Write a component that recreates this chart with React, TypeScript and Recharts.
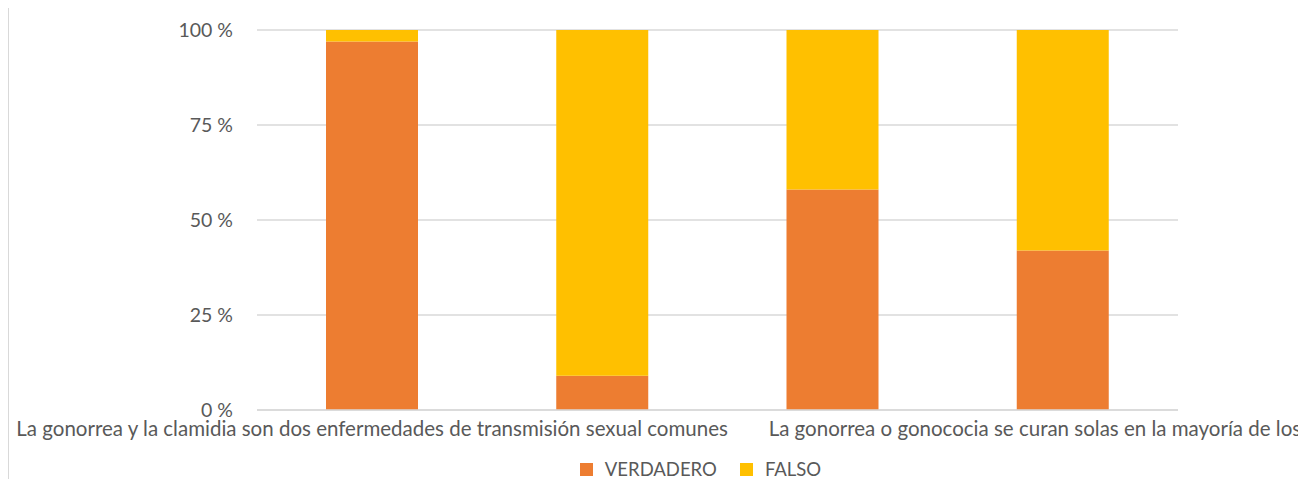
import React from "react";
import {
  BarChart,
  Bar,
  XAxis,
  YAxis,
  CartesianGrid,
  Legend,
} from "recharts";

// statements shown on the x axis (only some fit as labels)
const statements = [
  "La gonorrea y la clamidia son dos enfermedades de transmisión sexual comunes",
  "La gonorrea y la clamidia solo afectan a las mujeres",
  "La gonorrea o gonococia se curan solas en la mayoría de los casos",
  "La clamidia no presenta síntomas en la mayoría de los casos",
];

// percentages
const verdadero = [97, 9, 58, 42];
const falso = [3, 91, 42, 58];

const yTicks = [0, 25, 50, 75, 100];

const ORANGE = "#ED7D31";
const YELLOW = "#FFC000";
const TEXT = "#595959";
const GRID = "#d9d9d9";
const FONT = "Lato, 'Open Sans', sans-serif";

const data = statements.map((name, i) => ({
  name,
  VERDADERO: verdadero[i],
  FALSO: falso[i],
}));

const CategoryTick = (props: any) => {
  const { x, y, payload, index } = props;
  // Excel only had room for every other label; the third one is nudged right
  if (index % 2 !== 0) return null;
  const anchor = index === 0 ? "middle" : "start";
  const dx = index === 0 ? 0 : -64;
  return (
    <text
      x={x + dx}
      y={y}
      dy={18}
      textAnchor={anchor}
      fill={TEXT}
      fontSize={20.5}
      fontFamily={FONT}
    >
      {payload.value}
    </text>
  );
};

const LegendContent = () => {
  const items = [
    { label: "VERDADERO", color: ORANGE },
    { label: "FALSO", color: YELLOW },
  ];
  return (
    <div
      style={{
        display: "flex",
        justifyContent: "center",
        gap: 23,
        fontFamily: FONT,
        fontSize: 18.5,
        lineHeight: "24px",
        color: TEXT,
        paddingLeft: 214,
      }}
    >
      {items.map((it) => (
        <span key={it.label} style={{ display: "flex", alignItems: "center" }}>
          <span
            style={{
              display: "inline-block",
              width: 13,
              height: 13,
              background: it.color,
              marginRight: 12,
            }}
          />
          {it.label}
        </span>
      ))}
    </div>
  );
};

export default function App() {
  return (
    <div
      style={{
        width: 1289,
        height: 490,
        borderTop: `1px solid ${GRID}`,
        borderLeft: `1px solid ${GRID}`,
        overflow: "hidden",
        marginTop: -1,
        background: "#fff",
      }}
    >
      <BarChart
        width={1289}
        height={480}
        data={data}
        barSize={92}
        margin={{ top: 22, right: 120, left: 0, bottom: 24 }}
      >
        <CartesianGrid vertical={false} stroke={GRID} strokeWidth={1.5} />
        <XAxis
          dataKey="name"
          interval={0}
          height={30}
          tickLine={false}
          axisLine={{ stroke: GRID, strokeWidth: 1.5 }}
          tick={<CategoryTick />}
        />
        <YAxis
          width={248}
          domain={[0, 100]}
          ticks={yTicks}
          tickFormatter={(v) => `${v} %`}
          axisLine={false}
          tickLine={false}
          tickMargin={18}
          tick={{ fill: TEXT, fontSize: 19.5, fontFamily: FONT }}
        />
        <Legend
          verticalAlign="bottom"
          content={<LegendContent />}
          wrapperStyle={{ top: 449, bottom: "auto" }}
        />
        <Bar
          dataKey="VERDADERO"
          stackId="a"
          fill={ORANGE}
          isAnimationActive={false}
        />
        <Bar
          dataKey="FALSO"
          stackId="a"
          fill={YELLOW}
          isAnimationActive={false}
        />
      </BarChart>
    </div>
  );
}
